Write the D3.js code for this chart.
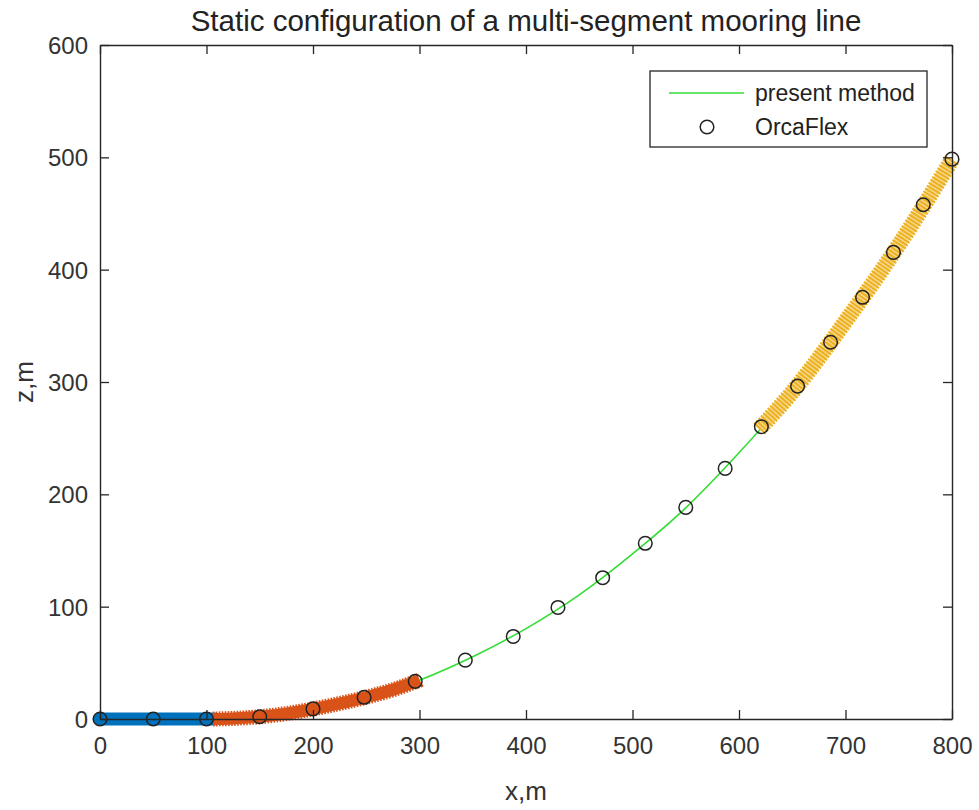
<!DOCTYPE html>
<html>
<head>
<meta charset="utf-8">
<script src="https://cdn.jsdelivr.net/npm/d3@7/dist/d3.min.js"></script>
<style>
  html, body { margin: 0; padding: 0; background: #fff; }
  svg { display: block; font-family: "Liberation Sans", Arial, Helvetica, sans-serif; }
</style>
</head>
<body>
<svg id="chart" width="979" height="810"></svg>
<script>
// Line profile from the present method (x, z in metres)
const presentX = [0, 50, 100, 110, 125, 150, 175, 200, 225, 250, 275, 300, 350, 400, 450, 500, 550, 600, 650, 700, 750, 800];
const presentZ = [0, 0, 0, 0, 0.5, 2, 4.8, 8.9, 13.8, 19.4, 26, 34.6, 55.5, 80.5, 110.5, 147, 188, 237, 291, 354, 422, 498];

// OrcaFlex nodes
const orcaX = [0, 50, 100, 150, 200, 248, 296, 343, 388, 430, 472, 512, 550, 587, 621, 655, 686, 716, 745, 773, 800];
const orcaZ = [0, 0, 0, 2, 9, 19.3, 33.5, 52.4, 73.5, 99.3, 125.8, 156.4, 188.4, 223.1, 260.2, 296.3, 335.4, 375.4, 415.4, 457.8, 498.4];

// Highlighted segments of the line
const seg1X = [0, 50, 108];
const seg1Z = [0, 0, 0];
const seg2X = [106, 125, 150, 175, 200, 225, 250, 275, 300];
const seg2Z = [0, 0.5, 2, 4.8, 8.9, 13.8, 19.4, 26, 34.6];
const seg4X = [619, 650, 700, 750, 800];
const seg4Z = [258, 291, 354, 422, 498];

// Axis ticks and labels
const xTicks = [0, 100, 200, 300, 400, 500, 600, 700, 800];
const zTicks = [0, 100, 200, 300, 400, 500, 600];
const titleText = "Static configuration of a multi-segment mooring line";
const xLabel = "x,m";
const zLabel = "z,m";
const legendLabels = ["present method", "OrcaFlex"];

const axisColor = "#262626";
const plotL = 100, plotR = 952, plotT = 45, plotB = 719;

const svg = d3.select("#chart");
const x = d3.scaleLinear().domain([0, 800]).range([plotL, plotR]);
const y = d3.scaleLinear().domain([0, 600]).range([plotB, plotT]);

const zip = (xs, zs) => xs.map((v, i) => [v, zs[i]]);
const line = d3.line().x(d => x(d[0])).y(d => y(d[1])).curve(d3.curveMonotoneX);

// Plot area background
svg.append("rect").attr("x", plotL).attr("y", plotT)
  .attr("width", plotR - plotL).attr("height", plotB - plotT).attr("fill", "#fff");

// Present method solution
svg.append("path").datum(zip(presentX, presentZ))
  .attr("d", line).attr("fill", "none")
  .attr("stroke", "#33dd33").attr("stroke-width", 1.6);

// Segment 1: dense filled markers
svg.append("path").datum(zip(seg1X, seg1Z))
  .attr("d", line).attr("fill", "none")
  .attr("stroke", "#0072BD").attr("stroke-width", 13).attr("stroke-linecap", "round");

// Segment 2: dense cross markers
const seg2 = zip(seg2X, seg2Z);
svg.append("path").datum(seg2).attr("d", line).attr("fill", "none")
  .attr("stroke", "#D95319").attr("stroke-width", 12);
svg.append("path").datum(seg2).attr("d", line).attr("fill", "none")
  .attr("stroke", "#D95319").attr("stroke-width", 15).attr("stroke-dasharray", "1.6 1.4");

// Segment 4: dense cross markers
const seg4 = zip(seg4X, seg4Z);
svg.append("path").datum(seg4).attr("d", line).attr("fill", "none")
  .attr("stroke", "#F5D88F").attr("stroke-width", 13);
svg.append("path").datum(seg4).attr("d", line).attr("fill", "none")
  .attr("stroke", "#EDB120").attr("stroke-width", 16).attr("stroke-dasharray", "2 1.4");

// OrcaFlex nodes
svg.append("g").selectAll("circle").data(zip(orcaX, orcaZ)).join("circle")
  .attr("cx", d => x(d[0])).attr("cy", d => y(d[1])).attr("r", 6.8)
  .attr("fill", "none").attr("stroke", "#222").attr("stroke-width", 1.5);

// Axes with box and mirrored ticks
const tickLen = 9;
const gx = svg.append("g").attr("transform", `translate(0,${plotB})`)
  .call(d3.axisBottom(x).tickValues(xTicks).tickSize(-tickLen).tickPadding(18).tickSizeOuter(0));
const gxTop = svg.append("g").attr("transform", `translate(0,${plotT})`)
  .call(d3.axisTop(x).tickValues(xTicks).tickSize(-tickLen).tickFormat("").tickSizeOuter(0));
const gy = svg.append("g").attr("transform", `translate(${plotL},0)`)
  .call(d3.axisLeft(y).tickValues(zTicks).tickSize(-tickLen).tickPadding(12).tickSizeOuter(0));
const gyRight = svg.append("g").attr("transform", `translate(${plotR},0)`)
  .call(d3.axisRight(y).tickValues(zTicks).tickSize(-tickLen).tickFormat("").tickSizeOuter(0));

[gx, gxTop, gy, gyRight].forEach(g => {
  g.select(".domain").attr("stroke", axisColor).attr("stroke-width", 1.4);
  g.selectAll(".tick line").attr("stroke", axisColor).attr("stroke-width", 1.3);
  g.selectAll(".tick text").attr("fill", "#333").attr("font-size", 24)
    .attr("font-family", "Liberation Sans, Arial, sans-serif");
});
gx.selectAll(".tick text").attr("dy", "0.71em");
gy.selectAll(".tick text").attr("dy", "0.35em");

// Title and axis labels
svg.append("text").attr("x", (plotL + plotR) / 2).attr("y", 31)
  .attr("text-anchor", "middle").attr("font-size", 29.5).attr("fill", "#222")
  .text(titleText);
svg.append("text").attr("x", (plotL + plotR) / 2).attr("y", 800)
  .attr("text-anchor", "middle").attr("font-size", 26).attr("fill", "#333")
  .text(xLabel);
svg.append("text").attr("transform", `translate(33,${(plotT + plotB) / 2}) rotate(-90)`)
  .attr("text-anchor", "middle").attr("font-size", 26).attr("fill", "#333")
  .text(zLabel);

// Legend
const lg = svg.append("g");
lg.append("rect").attr("x", 650).attr("y", 71).attr("width", 277).attr("height", 76)
  .attr("fill", "#fff").attr("stroke", axisColor).attr("stroke-width", 1.3);
lg.append("line").attr("x1", 669).attr("x2", 744).attr("y1", 93).attr("y2", 93)
  .attr("stroke", "#33dd33").attr("stroke-width", 1.6);
lg.append("circle").attr("cx", 707).attr("cy", 127).attr("r", 6.8)
  .attr("fill", "none").attr("stroke", "#222").attr("stroke-width", 1.5);
lg.selectAll("text.lbl").data(legendLabels).join("text").attr("class", "lbl")
  .attr("x", 755).attr("y", (d, i) => 93 + i * 34).attr("dy", "0.35em")
  .attr("font-size", 23).attr("fill", "#222").text(d => d);
</script>
</body>
</html>
